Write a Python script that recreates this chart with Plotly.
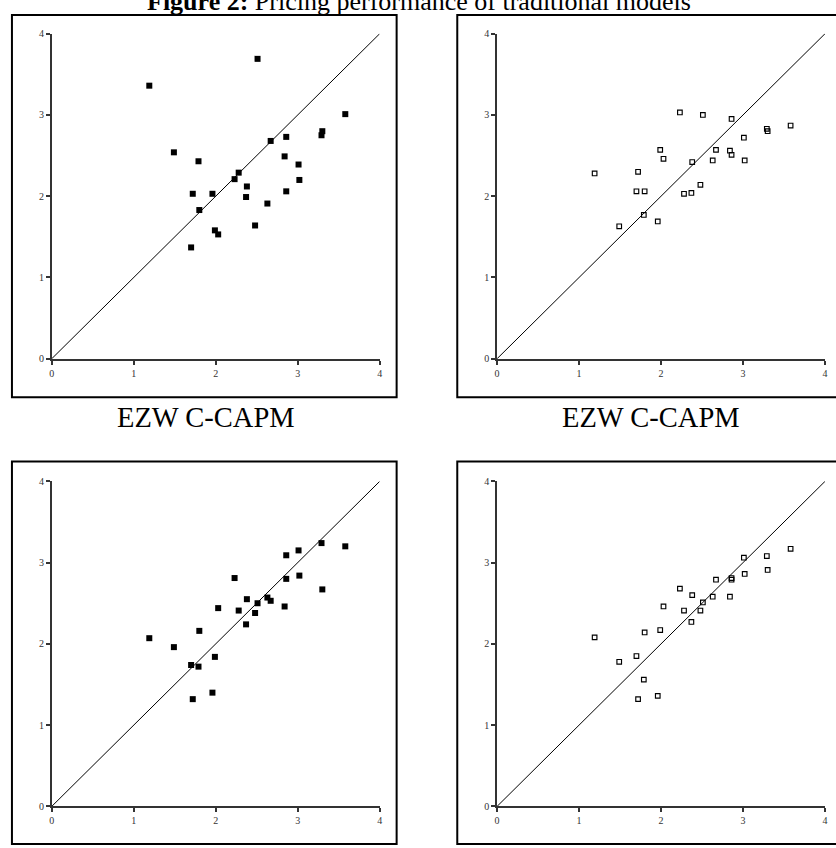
import plotly.graph_objects as go

# ---- data ----
realized = [1.19, 1.49, 1.70, 1.72, 1.79, 1.80, 1.96, 1.99, 2.03, 2.23, 2.28, 2.37, 2.38,
            2.48, 2.51, 2.63, 2.67, 2.84, 2.86, 2.86, 3.01, 3.02, 3.29, 3.30, 3.58]
top_left = [3.36, 2.54, 1.37, 2.03, 2.43, 1.83, 2.03, 1.58, 1.53, 2.21, 2.29, 1.99, 2.12,
            1.64, 3.69, 1.91, 2.68, 2.49, 2.73, 2.06, 2.39, 2.20, 2.75, 2.80, 3.01]
top_right = [2.28, 1.63, 2.06, 2.30, 1.77, 2.06, 1.69, 2.57, 2.46, 3.03, 2.03, 2.04, 2.42,
             2.14, 3.00, 2.44, 2.57, 2.56, 2.95, 2.51, 2.72, 2.44, 2.83, 2.80, 2.87]
bottom_left = [2.07, 1.96, 1.74, 1.32, 1.72, 2.16, 1.40, 1.84, 2.44, 2.81, 2.41, 2.24, 2.55,
               2.38, 2.50, 2.57, 2.53, 2.46, 3.09, 2.80, 3.15, 2.84, 3.24, 2.67, 3.20]
bottom_right = [2.08, 1.78, 1.85, 1.32, 1.56, 2.14, 1.36, 2.17, 2.46, 2.68, 2.41, 2.27, 2.60,
                2.41, 2.51, 2.58, 2.79, 2.58, 2.81, 2.79, 3.06, 2.86, 3.08, 2.91, 3.17]
diag = [0, 4]
tick_vals = [0, 1, 2, 3, 4]
tick_text = ["0", "1", "2", "3", "4"]
title_bold = "Figure 2:"
title_rest = "Pricing performance of traditional models"
caption = "EZW C-CAPM"

W, H = 836, 848
SERIF = "Liberation Serif, Times New Roman, serif"

def px(x):
    return x / W

def py(y):
    return 1 - y / H

panels = [
    # (values, filled?, x0px, x1px, ytop_px, ybot_px)
    (top_left, True, 49, 379, 29, 358),
    (top_right, False, 497, 827, 29, 358),
    (bottom_left, True, 49, 379, 482, 811),
    (bottom_right, False, 497, 827, 482, 811),
]

fig = go.Figure()
layout_axes = {}
for i, (vals, filled, x0, x1, yt, yb) in enumerate(panels, start=1):
    xa = "x" if i == 1 else f"x{i}"
    ya = "y" if i == 1 else f"y{i}"
    fig.add_trace(go.Scatter(x=diag, y=diag, mode="lines",
                             line=dict(color="black", width=1),
                             xaxis=xa, yaxis=ya, showlegend=False, hoverinfo="skip"))
    if filled:
        marker = dict(symbol="square", size=6, color="black", line=dict(width=0))
    else:
        marker = dict(symbol="square-open", size=4.6, color="black", line=dict(width=1.15))
    fig.add_trace(go.Scatter(x=realized, y=vals, mode="markers", marker=marker,
                             xaxis=xa, yaxis=ya, showlegend=False, cliponaxis=False))
    axcommon = dict(range=[0, 4], showgrid=False, zeroline=False, showline=True,
                    linecolor="#333", linewidth=1.5, ticks="outside", ticklen=4,
                    tickwidth=1.5, tickcolor="#333", tickvals=tick_vals, ticktext=tick_text,
                    tickfont=dict(family=SERIF, size=10, color="#333"), fixedrange=True)
    layout_axes["xaxis" if i == 1 else f"xaxis{i}"] = dict(
        axcommon, domain=[px(x0), px(x1)], anchor=ya)
    layout_axes["yaxis" if i == 1 else f"yaxis{i}"] = dict(
        axcommon, domain=[py(yb), py(yt)], anchor=xa)

shapes = []
for (lx, rx, ty, by) in [(9, 396, 10, 397), (457, 844, 10, 397),
                         (9, 396, 462, 849), (457, 844, 462, 849)]:
    shapes.append(dict(type="rect", xref="paper", yref="paper",
                       x0=px(lx), x1=px(rx), y0=py(by), y1=py(ty),
                       line=dict(color="black", width=2), fillcolor="rgba(0,0,0,0)"))

annotations = [
    dict(text=f"<b>{title_bold}</b> {title_rest}", xref="paper", yref="paper",
         x=px(418), y=py(13), xanchor="center", yanchor="bottom", showarrow=False,
         font=dict(family=SERIF, size=26, color="black")),
    dict(text=caption, xref="paper", yref="paper", x=px(204), y=py(435),
         xanchor="center", yanchor="bottom", showarrow=False,
         font=dict(family=SERIF, size=28.5, color="black")),
    dict(text=caption, xref="paper", yref="paper", x=px(652), y=py(435),
         xanchor="center", yanchor="bottom", showarrow=False,
         font=dict(family=SERIF, size=28.5, color="black")),
]

fig.update_layout(width=W, height=H, margin=dict(l=0, r=0, t=0, b=0),
                  paper_bgcolor="white", plot_bgcolor="white",
                  shapes=shapes, annotations=annotations, **layout_axes)

fig.write_html("out.html", config=dict(displayModeBar=False))
